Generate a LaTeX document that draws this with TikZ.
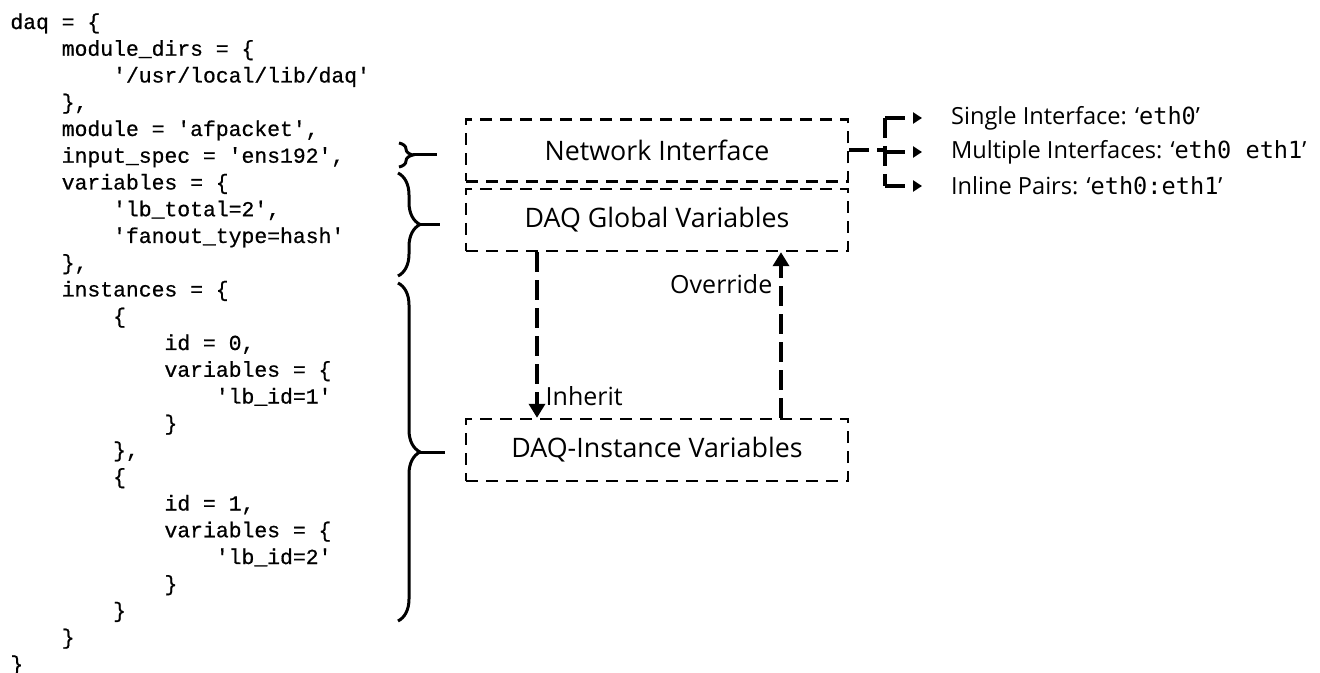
\documentclass[tikz,border=0pt]{standalone}
\usepackage{fontspec}
\setmainfont{Open Sans}
\setmonofont{DejaVu Sans Mono}
\newfontfamily\codefont{Liberation Mono}[FakeBold=0.6]
\usetikzlibrary{arrows.meta,decorations.pathreplacing}
\newcommand{\tb}{\phantom{0000}}
\tikzset{
  codeline/.style={anchor=base west, inner sep=0pt, font=\codefont\fontsize{10.7}{13.4}\selectfont},
  varbox/.style={draw, line width=1.2pt, dash pattern=on 6pt off 4pt, minimum width=191pt, minimum height=31pt, font=\fontsize{13.4}{15}\selectfont},
  flow/.style={line width=2pt, dash pattern=on 10pt off 4pt},
  brc/.style={decorate, decoration={brace, amplitude=11pt}, line width=1.5pt},
  lbl/.style={font=\fontsize{12.5}{14}\selectfont},
  opt/.style={anchor=west, font=\fontsize{11.8}{13}\selectfont}
}
\begin{document}
\begin{tikzpicture}[x=0.5pt, y=-0.5pt]
\useasboundingbox (0,0) rectangle (1320,673);
%code
\foreach \t [count=\i from 0] in {
  {daq = \{},
  {\tb module\_dirs = \{},
  {\tb\tb '/usr/local/lib/daq'},
  {\tb \},},
  {\tb module = 'afpacket',},
  {\tb input\_spec = 'ens192',},
  {\tb variables = \{},
  {\tb\tb 'lb\_total=2',},
  {\tb\tb 'fanout\_type=hash'},
  {\tb \},},
  {\tb instances = \{},
  {\tb\tb \{},
  {\tb\tb\tb id = 0,},
  {\tb\tb\tb variables = \{},
  {\tb\tb\tb\tb 'lb\_id=1'},
  {\tb\tb\tb \}},
  {\tb\tb \},},
  {\tb\tb \{},
  {\tb\tb\tb id = 1,},
  {\tb\tb\tb variables = \{},
  {\tb\tb\tb\tb 'lb\_id=2'},
  {\tb\tb\tb \}},
  {\tb\tb \}},
  {\tb \}},
  {\}}}
\node[codeline] (l\i) at (10,29+26.75*\i) {\t};
%braces
\draw[brc, decoration={amplitude=7pt}] (399,143) -- (399,167);
\draw[line width=1.5pt] (413,155) -- (437,155);
\draw[brc] (398,173) -- (398,276);
\draw[line width=1.5pt] (420,224.5) -- (440,224.5);
\draw[brc] (398,283) -- (398,621);
\draw[line width=1.5pt] (420,452) -- (445,452);
%boxes
\node[varbox] (ni) at (657,150.5) {Network Interface};
\node[varbox] (gv) at (657,220) {DAQ Global Variables};
\node[varbox] (iv) at (657,450) {DAQ-Instance Variables};
%inherit and override
\draw[flow, -{Triangle[length=7pt,width=8pt]}] ([xshift=-60pt]gv.south) -- node (inh) [lbl, right, pos=0.87] {Inherit} ([xshift=-60pt]iv.north);
\draw[flow, -{Triangle[length=7pt,width=8pt]}] ([xshift=62pt]iv.north) -- node (ovr) [lbl, left, pos=0.81] {Override} ([xshift=62pt]gv.south);
%interface options
\node[opt] (o1) at (944,118) {Single Interface: ‘\texttt{eth0}’};
\node[opt] (o2) at (944,152) {Multiple Interfaces: ‘\texttt{eth0 eth1}’};
\node[opt] (o3) at (944,186) {Inline Pairs: ‘\texttt{eth0:eth1}’};
\coordinate (fork) at ([xshift=18pt]ni.east);
\draw[flow] (ni.east) -- (fork);
\draw[flow] (fork |- o1) -- (fork |- o3);
\foreach \o in {o1,o2,o3}
\draw[flow, -{Triangle[length=4.5pt,width=5.5pt]}, shorten >=11pt] (fork |- \o.west) -- (\o.west);
\end{tikzpicture}
\end{document}
